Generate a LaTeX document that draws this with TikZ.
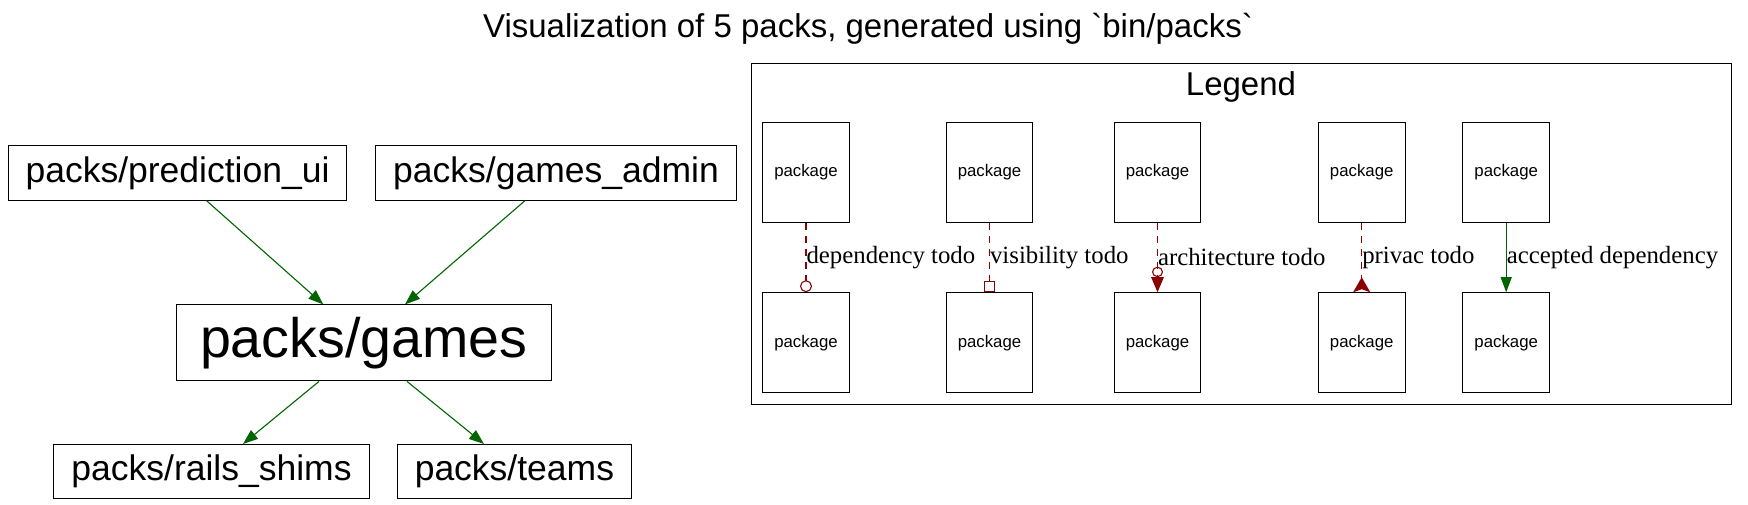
\documentclass[tikz,border=0pt]{standalone}
\usepackage{fontspec}
\newfontfamily\packfont{Liberation Sans}
\newfontfamily\edgefont{Liberation Serif}
\usetikzlibrary{arrows.meta}
\definecolor{depgreen}{RGB}{0,100,0}
\definecolor{todored}{RGB}{139,0,0}

\begin{document}
\begin{tikzpicture}[x=1pt,y=-1pt,
  pack/.style={rectangle,draw=black,line width=1pt,inner xsep=17.5pt,inner ysep=0pt,
               minimum height=54.5pt,font=\packfont\fontsize{35.5}{40}\selectfont},
  rootpack/.style={pack,inner xsep=24pt,minimum height=76pt,
                   font=\packfont\fontsize{55.6}{60}\selectfont},
  legpack/.style={rectangle,draw=black,line width=1pt,minimum width=86.6pt,
                  minimum height=100pt,inner sep=0pt,font=\packfont\fontsize{16.8}{19}\selectfont},
  dep/.style={depgreen,line width=1.1pt,-{Triangle[length=15pt,width=11pt]}},
  todo/.style={todored,line width=1.1pt,dash pattern=on 7pt off 6pt},
  lbl/.style={right,text=black,inner sep=0pt,font=\edgefont\fontsize{24.8}{28}\selectfont},
  ttl/.style={inner sep=0pt,font=\packfont\fontsize{33}{38}\selectfont}
]
\useasboundingbox (0,0) rectangle (1748,504);
\node[ttl] (title) at (868,28.4) {Visualization of 5 packs, generated using `bin/packs`};
% package graph
\node[pack]     (pui)    at (177.5,172.9) {packs/prediction\_ui};
\node[pack]     (gadmin) at (556,172.9)   {packs/games\_admin};
\node[rootpack] (games)  at (363.8,342.9) {packs/games};
\node[pack]     (rails)  at (211.5,471.7) {packs/rails\_shims};
\node[pack]     (teams)  at (514.4,471.7) {packs/teams};
\draw[dep] ([xshift=29pt]pui.south)     -- ([xshift=-40.5pt]games.north);
\draw[dep] ([xshift=-31pt]gadmin.south) -- ([xshift=41.2pt]games.north);
\draw[dep] ([xshift=-44.8pt]games.south) -- ([xshift=31.5pt]rails.north);
\draw[dep] ([xshift=43.2pt]games.south)  -- ([xshift=-30.4pt]teams.north);
% legend
\node[draw=black,line width=1pt,minimum width=979.3pt,minimum height=340.5pt,inner sep=0pt]
  (legend) at (1241.35,233.75) {};
\node[ttl] (legtitle) at (1241,86.5) {Legend};
\node[legpack] (depA)  at (806,172)    {package};
\node[legpack] (depB)  at (806,342.7)  {package};
\node[legpack] (visA)  at (989.5,172)  {package};
\node[legpack] (visB)  at (989.5,342.7) {package};
\node[legpack] (archA) at (1157.5,172) {package};
\node[legpack] (archB) at (1157.5,342.7) {package};
\node[legpack] (privA) at (1361.7,172) {package};
\node[legpack] (privB) at (1361.7,342.7) {package};
\node[legpack] (accA)  at (1506.2,172) {package};
\node[legpack] (accB)  at (1506.2,342.7) {package};
\draw[todo,-{Circle[open,length=12pt,width=12pt]}] (depA) -- node[lbl]{dependency todo} (depB);
\draw[todo,-{Square[open,length=11pt,width=11pt]}] (visA) -- node[lbl]{visibility todo} (visB);
\draw[todo,-{Circle[open,length=10.5pt,width=11pt] Triangle[length=15pt,width=12.5pt]}]
  (archA) -- node[lbl]{architecture todo} (archB);
\draw[todo,-{Stealth[reversed,length=15pt,width=17pt,inset=3pt]}]
  (privA) -- node[lbl]{privac todo} (privB);
\draw[dep] (accA) -- node[lbl]{accepted dependency} (accB);
\end{tikzpicture}
\end{document}
